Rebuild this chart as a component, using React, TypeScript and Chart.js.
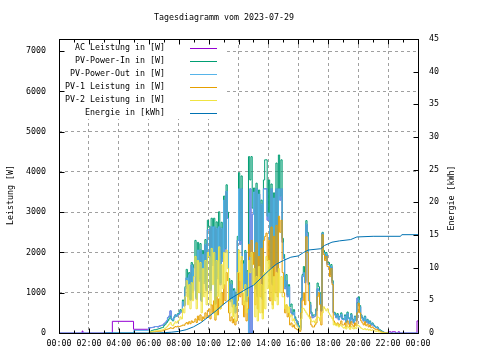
import React, { useEffect, useRef } from "react";
import { Chart, registerables } from "chart.js";

Chart.register(...registerables);

const chartTitle = "Tagesdiagramm vom 2023-07-29";
const yTitle = "Leistung [W]";
const y2Title = "Energie [kWh]";
const seriesLabels = [
  "AC Leistung in [W]",
  "PV-Power-In in [W]",
  "PV-Power-Out in [W]",
  "PV-1 Leistung in [W]",
  "PV-2 Leistung in [W]",
  "Energie in [kWh]",
];
const seriesColors = ["#9400d3", "#009e73", "#56b4e9", "#e69f00", "#f0e442", "#0072b2"];

const xTickValues = [0, 120, 240, 360, 480, 600, 720, 840, 960, 1080, 1200, 1320, 1440];
const xTickLabels = ["00:00", "02:00", "04:00", "06:00", "08:00", "10:00", "12:00", "14:00", "16:00", "18:00", "20:00", "22:00", "00:00"];
const xMinorTicks = [60, 180, 300, 420, 540, 660, 780, 900, 1020, 1140, 1260, 1380];
const yTicks = [0, 1000, 2000, 3000, 4000, 5000, 6000, 7000];
const y2Ticks = [0, 5, 10, 15, 20, 25, 30, 35, 40, 45];
const yMax = 7300;
const y2Max = 45;

// daytime samples every 5 minutes, 06:00 ... 21:55 (one row = one hour)
const dayStartMin = 360;
const dayStepMin = 5;

const pvInDay = [
  20, 40, 60, 70, 80, 80, 90, 100, 110, 120, 130, 140,
  190, 220, 260, 300, 350, 420, 330, 300, 380, 450, 420, 480,
  500, 580, 540, 820, 700, 1150, 1580, 940, 1500, 850, 1750, 1080,
  1700, 2300, 880, 2250, 1350, 2220, 820, 2050, 1280, 2320, 1100, 2800,
  2650, 1100, 2850, 1750, 2850, 760, 2760, 1400, 3010, 1250, 2750, 1850,
  3400, 2100, 3680, 3000, 1350, 820, 1300, 700, 1100, 540, 1000, 2400,
  3980, 2300, 3900, 1800, 1150, 2050, 820, 1550, 4380, 3800, 4380, 3100,
  3600, 1150, 3720, 950, 3550, 1450, 3300, 880, 3800, 4300, 4300, 2900,
  3800, 1650, 3700, 1250, 3480, 1750, 4220, 1550, 4420, 3400, 4300, 2350,
  1950, 1150, 1450, 950, 1200, 650, 720, 480, 580, 400, 320, 240,
  180, 120, 870, 1450, 1650, 1300, 2790, 2500, 1250, 760, 520, 430,
  450, 450, 600, 1240, 1150, 1000, 580, 2500, 2050, 1900, 2000, 1750,
  1750, 1500, 1700, 1300, 520, 500, 400, 480, 350, 420, 500, 360,
  350, 450, 280, 520, 380, 260, 480, 350, 270, 420, 320, 750,
  900, 680, 450, 380, 320, 420, 290, 340, 250, 300, 210, 250,
  200, 170, 140, 150, 100, 80, 60, 40, 20, 0, 0, 0,
];

const pvOutDay = [
  130, 130, 135, 140, 150, 160, 160, 150, 170, 180, 190, 200,
  230, 260, 300, 380, 420, 550, 350, 320, 400, 450, 420, 460,
  470, 550, 520, 780, 670, 1100, 1370, 900, 1450, 820, 1690, 1040,
  1620, 1740, 840, 2060, 1290, 2060, 790, 1950, 1230, 2200, 1050, 2560,
  2560, 1050, 2640, 1680, 2640, 720, 2600, 1350, 2640, 1200, 2600, 1780,
  3300, 2000, 3520, 2850, 1240, 780, 1200, 650, 1050, 500, 950, 2300,
  3580, 2200, 3580, 1720, 1100, 1980, 780, 1500, 0, 3580, 0, 2950,
  3500, 1100, 3580, 900, 3450, 1400, 3200, 840, 3580, 3580, 3580, 2800,
  2980, 1600, 3580, 1200, 3350, 1680, 3580, 1500, 3580, 3300, 3580, 2250,
  1850, 1100, 1300, 900, 1150, 600, 500, 450, 520, 350, 300, 200,
  150, 75, 820, 1400, 1500, 1250, 2700, 2400, 1200, 700, 480, 380,
  400, 420, 550, 1100, 1050, 950, 550, 2480, 2000, 1850, 1950, 1700,
  1700, 1450, 1650, 1250, 500, 450, 380, 450, 330, 400, 460, 340,
  330, 420, 260, 480, 360, 240, 450, 330, 250, 400, 300, 870,
  820, 650, 430, 360, 300, 400, 270, 320, 230, 280, 200, 230,
  180, 160, 130, 140, 90, 70, 50, 30, 15, 0, 0, 0,
];

const pv1Day = [
  10, 15, 20, 25, 30, 30, 35, 40, 45, 45, 50, 55,
  70, 80, 90, 100, 110, 130, 120, 110, 140, 160, 150, 170,
  160, 170, 180, 200, 190, 230, 260, 220, 280, 230, 300, 260,
  280, 350, 260, 420, 320, 450, 300, 400, 350, 500, 380, 560,
  600, 350, 700, 500, 800, 320, 900, 450, 850, 600, 1000, 700,
  1200, 800, 1500, 1300, 500, 300, 400, 250, 350, 200, 300, 800,
  1500, 900, 1800, 700, 400, 800, 300, 600, 2200, 1900, 2300, 1700,
  2000, 700, 2240, 600, 1900, 900, 2100, 500, 2300, 2400, 2480, 1800,
  2300, 800, 2630, 700, 2400, 1000, 2670, 900, 2900, 2500, 2800, 1500,
  1000, 500, 700, 400, 500, 200, 250, 150, 200, 120, 100, 80,
  60, 40, 500, 800, 1000, 700, 2390, 2000, 800, 400, 200, 150,
  150, 200, 250, 900, 1000, 700, 200, 2440, 1950, 1800, 1900, 1650,
  1650, 1400, 1600, 1200, 300, 250, 200, 250, 180, 220, 300, 200,
  200, 250, 150, 300, 220, 150, 280, 200, 150, 250, 180, 500,
  740, 500, 300, 250, 200, 280, 180, 220, 150, 200, 130, 150,
  120, 100, 80, 90, 60, 50, 30, 20, 10, 0, 0, 0,
];

const pv2Day = [
  20, 30, 35, 40, 45, 50, 55, 60, 65, 70, 75, 80,
  100, 120, 150, 180, 220, 260, 200, 180, 230, 280, 250, 300,
  320, 400, 350, 600, 500, 900, 1300, 700, 1200, 600, 1250, 800,
  1400, 1900, 600, 1800, 1000, 1750, 500, 1600, 900, 1800, 700, 2000,
  1900, 700, 2100, 1200, 2000, 400, 1800, 900, 2140, 600, 1700, 1100,
  2000, 1200, 2060, 1600, 800, 500, 830, 400, 700, 300, 650, 1500,
  2060, 1300, 1900, 1000, 700, 1200, 500, 900, 1800, 1500, 2000, 1200,
  1600, 400, 1400, 300, 1650, 500, 1200, 350, 1500, 600, 1900, 1100,
  1800, 900, 1600, 600, 1400, 800, 1500, 700, 1600, 1000, 1400, 900,
  900, 600, 700, 500, 650, 400, 450, 300, 350, 250, 200, 150,
  120, 80, 350, 620, 600, 550, 500, 450, 400, 350, 300, 280,
  300, 250, 350, 400, 380, 300, 420, 500, 650, 600, 550, 600,
  500, 450, 400, 350, 200, 250, 180, 220, 150, 200, 180, 150,
  120, 150, 100, 180, 130, 90, 160, 120, 100, 140, 110, 200,
  180, 150, 120, 100, 90, 110, 80, 100, 70, 90, 60, 80,
  60, 50, 40, 50, 30, 25, 20, 10, 5, 0, 0, 0,
];

// night parts: [minute of day, value]
const acMorning = [[0, 0], [93, 50], [96, 0], [214, 290], [299, 92], [356, 92]];
const acEvening = [[1320, 30], [1332, 0], [1336, 30], [1350, 0], [1360, 30], [1366, 0], [1434, 0], [1436, 300], [1440, 300]];
const pvOutMorning = [[0, 0], [300, 65]];
const nightEnd = [[1320, 0], [1440, 0]];
const dayEnd = [[1320, 0]];
const energyPts = [
  [180, 0], [390, 0], [420, 0.05], [450, 0.12], [480, 0.25], [510, 0.5], [540, 0.95], [570, 1.6],
  [600, 2.5], [630, 3.4], [660, 4.4], [690, 5.3], [720, 6.0], [750, 6.7], [780, 7.3], [810, 8.4],
  [840, 9.5], [870, 10.5], [900, 11.1], [930, 11.6], [960, 11.8], [980, 12.3], [1000, 12.7],
  [1050, 12.9], [1065, 13.4], [1095, 13.9], [1125, 14.1], [1170, 14.3], [1195, 14.7], [1260, 14.8],
  [1370, 14.8], [1375, 15.05], [1440, 15.05],
];

const FONT = '"DejaVu Sans Mono", "Liberation Mono", monospace';
const FS = 8.3;
const fontStr = `${FS}px ${FONT}`;

const pairs = (p: number[][]) => p.map(([x, y]) => ({ x, y }));
const dayPts = (vals: number[]) => vals.map((y, i) => ({ x: dayStartMin + i * dayStepMin, y }));

const px = (v: number) => Math.round(v) + 0.5;

const gnuplotDecor = {
  id: "gnuplotDecor",
  beforeDatasetsDraw(chart: any) {
    const { ctx, chartArea: a } = chart;
    const L = px(a.left), R = px(a.right), T = px(a.top), B = px(a.bottom);
    ctx.save();
    ctx.setLineDash([]);
    ctx.strokeStyle = "#000";
    ctx.lineWidth = 1;
    ctx.strokeRect(L, T, R - L, B - T);
    ctx.restore();
  },
  afterDatasetsDraw(chart: any) {
    const { ctx, chartArea: a, scales } = chart;
    const L = px(a.left), R = px(a.right), T = px(a.top), B = px(a.bottom);
    ctx.save();
    ctx.setLineDash([]);
    // key box (opaque)
    ctx.fillStyle = "#fff";
    ctx.fillRect(L + 0.5, T + 0.5, 165, 79);
    // inward ticks
    ctx.strokeStyle = "#000";
    ctx.lineWidth = 1;
    ctx.beginPath();
    for (const v of xTickValues) {
      const x = px(scales.x.getPixelForValue(v));
      ctx.moveTo(x, B); ctx.lineTo(x, B - 5);
      ctx.moveTo(x, T); ctx.lineTo(x, T + 5);
    }
    for (const v of xMinorTicks) {
      const x = px(scales.x.getPixelForValue(v));
      ctx.moveTo(x, B); ctx.lineTo(x, B - 3);
      ctx.moveTo(x, T); ctx.lineTo(x, T + 3);
    }
    for (const v of yTicks) {
      const y = px(scales.y.getPixelForValue(v));
      ctx.moveTo(L, y); ctx.lineTo(L + 5, y);
    }
    for (const v of y2Ticks) {
      const y = px(scales.y2.getPixelForValue(v));
      ctx.moveTo(R, y); ctx.lineTo(R - 5, y);
    }
    ctx.stroke();
    // key entries
    ctx.font = fontStr;
    ctx.textBaseline = "middle";
    ctx.textAlign = "right";
    chart.data.datasets.forEach((ds: any, i: number) => {
      const y = T + 8 + 13 * i;
      ctx.fillStyle = "#000";
      ctx.fillText(ds.label, 165, y);
      ctx.strokeStyle = ds.borderColor;
      ctx.beginPath();
      ctx.moveTo(190, px(y));
      ctx.lineTo(217, px(y));
      ctx.stroke();
    });
    ctx.restore();
  },
  afterDraw(chart: any) {
    const { ctx } = chart;
    ctx.save();
    ctx.font = fontStr;
    ctx.fillStyle = "#000";
    ctx.textAlign = "center";
    ctx.textBaseline = "middle";
    ctx.fillText(chartTitle, 224, 18);
    ctx.translate(11, 195);
    ctx.rotate(-Math.PI / 2);
    ctx.fillText(yTitle, 0, 0);
    ctx.restore();
    ctx.save();
    ctx.font = fontStr;
    ctx.fillStyle = "#000";
    ctx.textAlign = "center";
    ctx.textBaseline = "middle";
    ctx.translate(452, 198);
    ctx.rotate(-Math.PI / 2);
    ctx.fillText(y2Title, 0, 0);
    ctx.restore();
  },
};

export default function App() {
  const ref = useRef<HTMLCanvasElement | null>(null);
  useEffect(() => {
    if (!ref.current) return;
    const lineDs = (i: number, data: any[], axis = "y", stepped: any = true) => ({
      label: seriesLabels[i],
      data,
      borderColor: seriesColors[i],
      backgroundColor: seriesColors[i],
      borderWidth: 1,
      pointRadius: 0,
      fill: false,
      stepped,
      tension: 0,
      yAxisID: axis,
      order: seriesLabels.length - 1 - i,
    });
    const gridDash = [3, 3];
    const chart = new Chart(ref.current, {
      type: "line",
      data: {
        datasets: [
          lineDs(0, [...pairs(acMorning), ...dayPts(pvOutDay), ...pairs(acEvening)]),
          lineDs(1, [...dayPts(pvInDay), ...pairs(dayEnd)]),
          lineDs(2, [...pairs(pvOutMorning), ...dayPts(pvOutDay), ...pairs(nightEnd)]),
          lineDs(3, [...dayPts(pv1Day), ...pairs(dayEnd)]),
          lineDs(4, [...dayPts(pv2Day), ...pairs(dayEnd)]),
          lineDs(5, pairs(energyPts), "y2", false),
        ],
      },
      options: {
        animation: false,
        responsive: false,
        devicePixelRatio: 1,
        events: [],
        layout: { padding: { top: 39, left: 0, right: 0, bottom: 0 } },
        plugins: {
          legend: { display: false },
          tooltip: { enabled: false },
          title: { display: false },
        },
        scales: {
          x: {
            type: "linear",
            min: 0,
            max: 1440,
            afterBuildTicks: (s: any) => { s.ticks = xTickValues.map((v) => ({ value: v })); },
            afterFit: (s: any) => { s.height = 27; },
            ticks: {
              autoSkip: false,
              maxRotation: 0,
              minRotation: 0,
              padding: 6,
              color: "#000",
              font: { family: FONT, size: FS },
              callback: (_v: any, i: number) => xTickLabels[i],
            },
            grid: { color: "#a0a0a0", lineWidth: 1, drawTicks: false, borderDash: gridDash } as any,
            border: { display: false, dash: gridDash },
          },
          y: {
            type: "linear",
            position: "left",
            min: 0,
            max: yMax,
            afterBuildTicks: (s: any) => { s.ticks = yTicks.map((v) => ({ value: v })); },
            afterFit: (s: any) => { s.width = 59; },
            ticks: {
              padding: 13,
              color: "#000",
              font: { family: FONT, size: FS },
              callback: (v: any) => String(v),
            },
            grid: {
              color: (c: any) => (c.tick && c.tick.value === 0 ? "rgba(0,0,0,0)" : "#a0a0a0"),
              lineWidth: 1,
              drawTicks: false,
              borderDash: gridDash,
            } as any,
            border: { display: false, dash: gridDash },
          },
          y2: {
            type: "linear",
            position: "right",
            min: 0,
            max: y2Max,
            afterBuildTicks: (s: any) => { s.ticks = y2Ticks.map((v) => ({ value: v })); },
            afterFit: (s: any) => { s.width = 62; },
            ticks: {
              padding: 11,
              color: "#000",
              font: { family: FONT, size: FS },
              callback: (v: any) => String(v),
            },
            grid: { drawOnChartArea: false, drawTicks: false },
            border: { display: false },
          },
        },
      } as any,
      plugins: [gnuplotDecor],
    });
    return () => chart.destroy();
  }, []);
  return (
    <div style={{ position: "absolute", left: 0, top: 0, width: 480, height: 360, background: "#fff" }}>
      <canvas ref={ref} width={480} height={360} style={{ display: "block" }} />
    </div>
  );
}
